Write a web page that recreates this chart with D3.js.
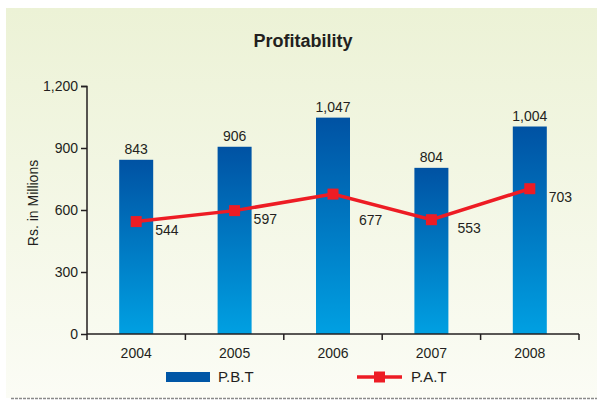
<!DOCTYPE html>
<html><head><meta charset="utf-8">
<script src="https://cdn.jsdelivr.net/npm/d3@7/dist/d3.min.js"></script>
<style>body{margin:0;background:#fff;}svg{display:block;font-family:"Liberation Sans",Arial,sans-serif;}</style>
</head><body>
<svg id="c" width="597" height="400"></svg>
<script>
const years = ["2004","2005","2006","2007","2008"];
const pbt = [843, 906, 1047, 804, 1004];
const pat = [544, 597, 677, 553, 703];
const yTicks = [0, 300, 600, 900, 1200];
const title = "Profitability";
const yLabel = "Rs. in Millions";
const seriesNames = ["P.B.T", "P.A.T"];

const svg = d3.select("#c");
const defs = svg.append("defs");
const bg = defs.append("linearGradient").attr("id","bg").attr("x1",0).attr("y1",0).attr("x2",0).attr("y2",1);
bg.append("stop").attr("offset","0%").attr("stop-color","#ecf2d6");
bg.append("stop").attr("offset","100%").attr("stop-color","#fbfcf5");
const bar = defs.append("linearGradient").attr("id","bar").attr("x1",0).attr("y1",0).attr("x2",0).attr("y2",1);
bar.append("stop").attr("offset","0%").attr("stop-color","#0052a3");
bar.append("stop").attr("offset","100%").attr("stop-color","#00a0e2");

svg.append("rect").attr("x",6).attr("y",8).attr("width",591).attr("height",390).attr("fill","url(#bg)");
svg.append("line").attr("x1",11).attr("x2",597).attr("y1",398.5).attr("y2",398.5)
  .attr("stroke","#8a8a8a").attr("stroke-width",1.5).attr("stroke-dasharray","3,1");

const x = d3.scaleBand().domain(years).range([87, 579]);
const y = d3.scaleLinear().domain([0, 1200]).range([334, 86]);
const fmt = d3.format(",");
const FS = 14;

svg.append("text").attr("x",303).attr("y",47).attr("text-anchor","middle")
  .attr("font-size",18).attr("font-weight","bold").attr("fill","#231f20").text(title);

// y axis
const ya = svg.append("g").attr("transform","translate(87,0)")
  .call(d3.axisLeft(y).tickValues(yTicks).tickFormat(fmt).tickSize(6).tickPadding(3));
ya.select(".domain").attr("stroke","#231f20").attr("stroke-width",1.5).attr("d","M-6,86.5H0V334");
ya.selectAll(".tick line").attr("stroke","#231f20").attr("stroke-width",1.5);
ya.selectAll(".tick text").attr("font-size",FS).attr("fill","#231f20").attr("font-family","Liberation Sans, Arial, sans-serif");

svg.append("text").attr("transform","translate(38,203) rotate(-90)").attr("text-anchor","middle")
  .attr("font-size",FS).attr("fill","#231f20").text(yLabel);

// bars
const bw = 34;
svg.selectAll(".bar").data(pbt).enter().append("rect")
  .attr("x",(d,i)=>x(years[i])+x.bandwidth()/2-bw/2)
  .attr("y",d=>y(d)).attr("width",bw).attr("height",d=>y(0)-y(d))
  .attr("fill","url(#bar)");
svg.selectAll(".pbtl").data(pbt).enter().append("text")
  .attr("x",(d,i)=>x(years[i])+x.bandwidth()/2).attr("y",d=>y(d)-6)
  .attr("text-anchor","middle").attr("font-size",FS).attr("fill","#231f20").text(d=>fmt(d));

// x axis
const xa = svg.append("g").attr("transform","translate(0,334)")
  .call(d3.axisBottom(x).tickSize(0).tickPadding(14));
xa.select(".domain").attr("stroke","#231f20").attr("stroke-width",1.5).attr("d","M87,0H579");
xa.selectAll(".tick text").attr("font-size",FS).attr("fill","#231f20").attr("font-family","Liberation Sans, Arial, sans-serif");
const bounds = years.map(d=>x(d)).concat([x(years[years.length-1])+x.bandwidth()]);
xa.selectAll(".bt").data(bounds).enter().append("line")
  .attr("x1",d=>d).attr("x2",d=>d).attr("y1",0).attr("y2",6)
  .attr("stroke","#231f20").attr("stroke-width",1.5);

// line
const red = "#ed1c24";
const cx = i => x(years[i]) + x.bandwidth()/2;
svg.append("path").datum(pat)
  .attr("d", d3.line().x((d,i)=>cx(i)).y(d=>y(d)))
  .attr("fill","none").attr("stroke",red).attr("stroke-width",3.5);
const ms = 11;
svg.selectAll(".mk").data(pat).enter().append("rect")
  .attr("x",(d,i)=>cx(i)-ms/2).attr("y",d=>y(d)-ms/2).attr("width",ms).attr("height",ms).attr("fill",red);
svg.selectAll(".patl").data(pat).enter().append("text")
  .attr("x",(d,i)=>cx(i)+ (i===2||i===3 ? 26 : 19))
  .attr("y",(d,i)=>y(d)+ (i===2 ? 31 : 13))
  .attr("font-size",FS).attr("fill","#231f20").text(d=>fmt(d));

// legend
svg.append("rect").attr("x",166).attr("y",372).attr("width",44).attr("height",10).attr("fill","#0056a6");
svg.append("text").attr("x",218).attr("y",382).attr("font-size",15).attr("fill","#231f20").text(seriesNames[0]);
svg.append("line").attr("x1",357).attr("x2",402).attr("y1",377).attr("y2",377).attr("stroke",red).attr("stroke-width",3.5);
svg.append("rect").attr("x",374).attr("y",371.5).attr("width",11).attr("height",11).attr("fill",red);
svg.append("text").attr("x",411).attr("y",382).attr("font-size",15).attr("fill","#231f20").text(seriesNames[1]);
</script>
</body></html>
